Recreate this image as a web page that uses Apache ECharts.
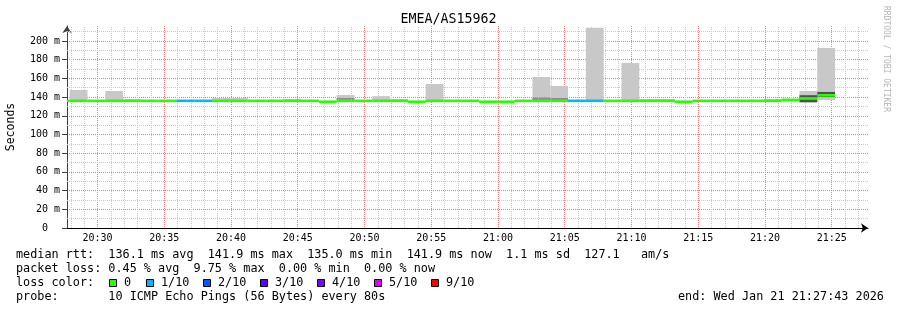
<!DOCTYPE html>
<html><head><meta charset="utf-8">
<script src="https://cdn.jsdelivr.net/npm/echarts@6/dist/echarts.min.js"></script>
<style>html,body{margin:0;padding:0;background:#fff}#c{width:897px;height:310px}</style>
</head><body><div id="c"></div><script>
const chartTitle = 'EMEA/AS15962';
const viewStart = '20:27:43';
const viewEnd = '21:27:43';
const stepSeconds = 80;
const binStart = ['20:26:35','20:27:55','20:29:15','20:30:35','20:31:55','20:33:15','20:34:35','20:35:55','20:37:15','20:38:35','20:39:55','20:41:15','20:42:35','20:43:55','20:45:15','20:46:35','20:47:55','20:49:15','20:50:35','20:51:55','20:53:15','20:54:35','20:55:55','20:57:15','20:58:35','20:59:55','21:01:15','21:02:35','21:03:55','21:05:15','21:06:35','21:07:55','21:09:15','21:10:35','21:11:55','21:13:15','21:14:35','21:15:55','21:17:15','21:18:35','21:19:55','21:21:15','21:22:35','21:23:55'];
const medianMs = [136,136,136,136,136,136,136,136,136,136,136,136,136,136,136,135.0,136,136,136,136,135.0,136,136,136,135.0,135.0,136,136,136,136,136,136,136,136,136,135.0,136,136,136,136,136,137,138.5,141.9];
const lossPct = [0,0,0,0,0,0,0,10,10,0,0,0,0,0,0,0,0,0,0,0,0,0,0,0,0,0,0,0,0,10,10,0,0,0,0,0,0,0,0,0,0,0,0,0];
const smokeMin = [135.5,135,135.5,135,135.5,135.5,135.5,135.5,135.5,135.5,135.5,135.5,135.5,135.5,135.5,134.5,135.5,135.5,135.5,135.5,134.5,135.5,135.5,135.5,134.5,134.5,135.5,135.5,135.5,135.5,135.5,135.5,135.5,135.5,135.5,134.5,135.5,135.5,135.5,135.5,135.5,135.5,134,137];
const smokeMax = [136.5,147.6,136.8,146.5,138,136.8,136.8,136.8,136.8,139,139,136.8,136.8,138,136.8,136,142.2,136.8,141,138,136,154,136.8,136.8,136,136,136.8,161.5,151.9,137,214,136.8,176.5,138,138,136,136.8,136.8,136.8,136.8,138,138,146.5,192.5];
const midMin = [null,null,null,null,null,null,null,null,null,null,null,null,null,null,null,null,137,null,null,null,null,null,null,null,null,null,null,136.5,136.5,null,null,null,null,null,null,null,null,null,null,null,null,null,null,null];
const midMax = [null,null,null,null,null,null,null,null,null,null,null,null,null,null,null,null,139,null,null,null,null,null,null,null,null,null,null,139.5,139,null,null,null,null,null,null,null,null,null,null,null,null,null,null,null];
const darkMin = [null,null,null,null,null,null,null,null,null,null,null,null,null,null,null,null,null,null,null,null,null,null,null,null,null,null,null,null,null,null,null,null,null,null,null,null,null,null,null,null,null,null,134.5,140];
const darkMax = [null,null,null,null,null,null,null,null,null,null,null,null,null,null,null,null,null,null,null,null,null,null,null,null,null,null,null,null,null,null,null,null,null,null,null,null,null,null,null,null,null,null,142,145.5];
const yMax = 216;
const legendLines = [
  'median rtt:  136.1 ms avg  141.9 ms max  135.0 ms min  141.9 ms now  1.1 ms sd  127.1   am/s',
  'packet loss: 0.45 % avg  9.75 % max  0.00 % min  0.00 % now',
  'loss color:',
  'probe:       10 ICMP Echo Pings (56 Bytes) every 80s'
];
const lossLabels = ['0','1/10','2/10','3/10','4/10','5/10','9/10'];
const lossColors = ['#26ff00','#00b8ff','#0059ff','#5e00ff','#7e00ff','#dd00ff','#ff0000'];
const endText = 'end: Wed Jan 21 21:27:43 2026';

const MONO = "'DejaVu Sans Mono', monospace";
// seconds of the day
function sod(hms){ const p = hms.split(':').map(Number); return p[0]*3600+p[1]*60+p[2]; }
function pad(n){ return (n<10?'0':'')+n; }
function lossColor(l){ const n = Math.round(l/10); if (n<=0) return lossColors[0]; if (n>5) return lossColors[6]; return lossColors[n]; }

const bands = (lo, hi) => binStart.map((s,i)=> lo[i]==null ? null : [sod(s), sod(s)+stepSeconds, lo[i], hi[i]]).filter(Boolean);

function bandRender(fill){
  return function(params, api){
    const p0 = api.coord([api.value(0), api.value(3)]);
    const p1 = api.coord([api.value(1), api.value(2)]);
    const cs = params.coordSys;
    const shape = echarts.graphic.clipRectByRect({x:p0[0], y:p0[1], width:p1[0]-p0[0], height:Math.max(p1[1]-p0[1],0.01)}, {x:cs.x, y:cs.y, width:cs.width, height:cs.height});
    return shape && {type:'rect', shape, style:{fill}};
  };
}

const medData = binStart.map((s,i)=>[sod(s), sod(s)+stepSeconds, medianMs[i], lossPct[i]]);
function medRender(params, api){
  const p0 = api.coord([api.value(0), api.value(2)]);
  const p1 = api.coord([api.value(1), api.value(2)]);
  const cs = params.coordSys;
  const shape = echarts.graphic.clipRectByRect({x:p0[0], y:p0[1]-1.3, width:p1[0]-p0[0], height:2.6}, {x:cs.x, y:cs.y-5, width:cs.width, height:cs.height+10});
  return shape && {type:'rect', shape, style:{fill: lossColor(api.value(3))}};
}

const chart = echarts.init(document.getElementById('c'), null, {renderer:'canvas'});
const gridLeft = 67, gridTop = 26, gridRight = 29, gridBottom = 82;
const xMin = sod(viewStart), xMax = sod(viewEnd);
const G = '#c8c8c8', MG = '#f08080';

// minor grid positions: every minute / every 10 ms, skipping the major (5 min / 20 ms) lines
const minorX = [];
for (let m = Math.ceil(xMin/60)*60; m < xMax; m += 60) if (m % 300 !== 0) minorX.push(m);
const minorY = [];
for (let v = 10; v < yMax; v += 20) minorY.push(v);

const graphics = [];
legendLines.forEach((t,i)=>{
  graphics.push({type:'text', x:16, y:254.5+14*i, style:{text:t, font:'11.8px '+MONO, fill:'#000', textVerticalAlign:'middle'}});
});
const boxX = [109,146,203,260,317,374,431];
lossLabels.forEach((t,i)=>{
  graphics.push({type:'rect', shape:{x:boxX[i]+0.5, y:279.5, width:7, height:7}, style:{fill:lossColors[i], stroke:'#000', lineWidth:1}});
  graphics.push({type:'text', x:boxX[i]+15, y:282.5, style:{text:t, font:'11.8px '+MONO, fill:'#000', textVerticalAlign:'middle'}});
});
graphics.push({type:'text', x:678, y:296.5, style:{text:endText, font:'11.8px '+MONO, fill:'#000', textVerticalAlign:'middle'}});
graphics.push({type:'text', x:886, y:59, rotation:-Math.PI/2, style:{text:'RRDTOOL / TOBI OETIKER', font:'8px '+MONO, fill:'#b4b4b4', align:'center', verticalAlign:'middle'}});

const option = {
  animation: false,
  backgroundColor: '#fff',
  title: {text: chartTitle, left:'center', top:13, padding:0, textStyle:{fontFamily:MONO, fontSize:13.3, fontWeight:'normal', color:'#000'}},
  grid: {left:gridLeft, top:gridTop, right:gridRight, bottom:gridBottom, containLabel:false, outerBoundsMode:'none'},
  xAxis: [
    {type:'value', position:'bottom', min:xMin, max:xMax, minInterval:300, maxInterval:300, splitNumber:12,
     axisLine:{show:true, onZero:false, symbol:['none','arrow'], symbolSize:[7,7], lineStyle:{color:'#000', width:1}},
     axisTick:{show:false},
     axisLabel:{show:true, showMinLabel:false, showMaxLabel:false, margin:5, fontFamily:MONO, fontSize:10, color:'#000',
       formatter:(v)=> pad(Math.floor(v/3600))+':'+pad(Math.floor((v%3600)/60))},
     splitLine:{show:true, showMinLine:false, showMaxLine:false, lineStyle:{color:MG, type:[1,1], width:1}}}
  ],
  yAxis: [
    {type:'value', position:'left', min:0, max:yMax, interval:20,
     name:'Seconds', nameLocation:'middle', nameGap:50, nameRotate:90, nameTextStyle:{fontFamily:MONO, fontSize:11.5, color:'#000'},
     axisLine:{show:true, onZero:false, symbol:['none','arrow'], symbolSize:[7,7], lineStyle:{color:'#404040', width:1}},
     axisTick:{show:true, length:5, lineStyle:{color:'#404040'}},
     axisLabel:{show:true, showMaxLabel:false, margin:7, fontFamily:MONO, fontSize:10, color:'#000',
       formatter:(v)=> v===0 ? '0  ' : v+' m'},
     splitLine:{show:true, showMinLine:false, showMaxLine:false, lineStyle:{color:MG, type:[1,1], width:1}}}
  ],
  series: [
    {type:'line', name:'minorGrid', data:[[xMin, null]], silent:true, z:1, symbol:'none', lineStyle:{width:0},
     markLine:{silent:true, animation:false, symbol:['none','none'], label:{show:false}, emphasis:{disabled:true},
       lineStyle:{color:G, type:[1,1], width:1},
       data:[...minorX.map(v=>({xAxis:v})), ...minorY.map(v=>({yAxis:v}))]}},
    {type:'custom', name:'smoke', renderItem:bandRender('#c8c8c8'), data:bands(smokeMin, smokeMax), encode:{x:[0,1], y:[2,3]}, z:3},
    {type:'custom', name:'smokeMid', renderItem:bandRender('#8c8c8c'), data:bands(midMin, midMax), encode:{x:[0,1], y:[2,3]}, z:4},
    {type:'custom', name:'smokeDark', renderItem:bandRender('#505050'), data:bands(darkMin, darkMax), encode:{x:[0,1], y:[2,3]}, z:5},
    {type:'custom', name:'median', renderItem:medRender, data:medData, encode:{x:[0,1], y:2}, z:6}
  ],
  graphic: graphics
};
chart.setOption(option);
</script></body></html>
